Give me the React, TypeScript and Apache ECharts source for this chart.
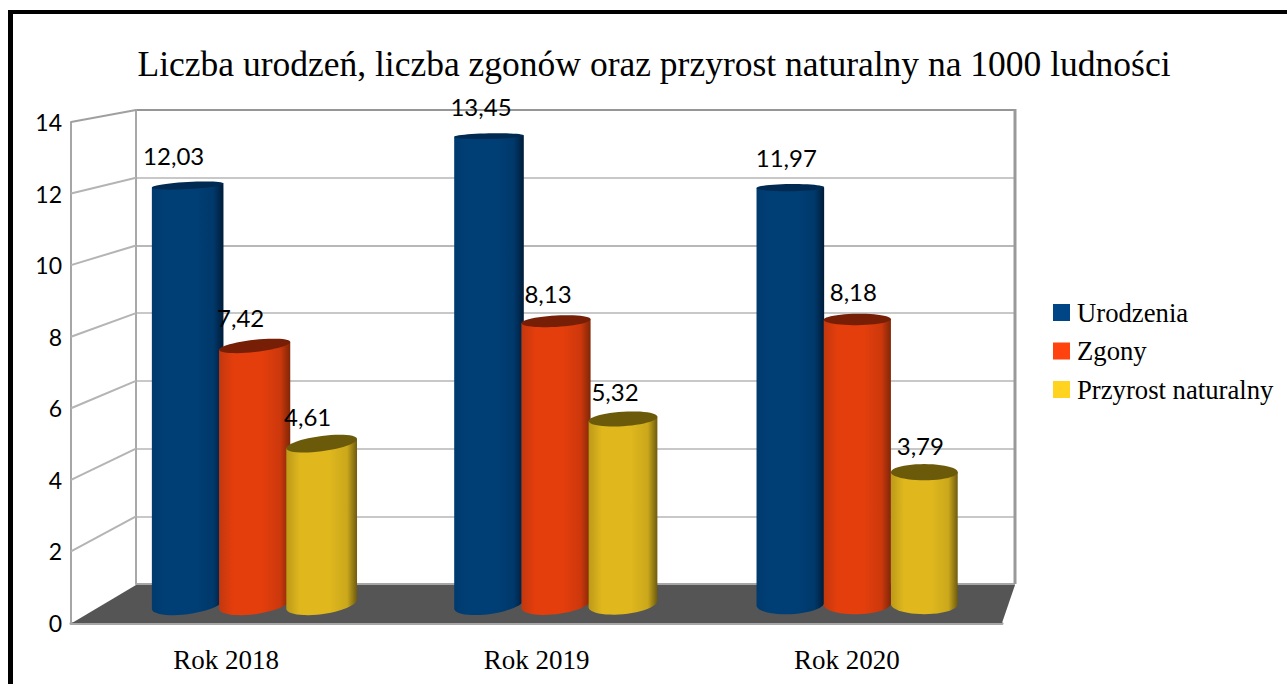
import React, { useEffect, useRef } from "react";
import * as echarts from "echarts";

const titleText = "Liczba urodzeń, liczba zgonów oraz przyrost naturalny na 1000 ludności";
const categories = ["Rok 2018", "Rok 2019", "Rok 2020"];
const seriesNames = ["Urodzenia", "Zgony", "Przyrost naturalny"];
const urodzenia = [12.03, 13.45, 11.97];
const zgony = [7.42, 8.13, 8.18];
const przyrost = [4.61, 5.32, 3.79];
const yTicks = [0, 2, 4, 6, 8, 10, 12, 14];

const legendColors = ["#004586", "#ff420e", "#ffd320"];
const bodyStops = [
  ["#003a6e", "#003f75", "#003f75", "#00386a", "#001c38"],
  ["#c2380f", "#e43e0c", "#e43e0c", "#cc380c", "#7f2607"],
  ["#bd9a18", "#e0b81e", "#e0b81e", "#cba81b", "#6e5b0e"],
];
const capColors = ["#002a52", "#761f06", "#6c5a0b"];
const serif = "'Liberation Serif', serif";
const sans = "Lato, sans-serif";

// plot geometry (page pixels)
const FRONT = { left: 71, right: 1002, top: 122, bottom: 623 };
const BACK = { left: 136, right: 1015, top: 110, bottom: 584 };
const BARS = { left: 104, right: 1008, top: 117, bottom: 604 };
const SERIES_SPACING = 67;
const LABEL_SHIFT_X = [-14, -8, -4];
const LABEL_LIFT = [30, 28, 27];
const W = 1287;
const H = 684;

function grid(b: { left: number; right: number; top: number; bottom: number }) {
  return { left: b.left, top: b.top, width: b.right - b.left, height: b.bottom - b.top, containLabel: false };
}

function cylinder(seriesIndex: number) {
  return (params: any, api: any) => {
    const cat = api.value(0);
    const val = api.value(1);
    const top = api.coord([cat, val]);
    const base = api.coord([cat, 0]);
    const cx = top[0] + (seriesIndex - 1) * SERIES_SPACING;
    const rx = 35.8 - (cx - 188) * 0.0033;
    const tiltAt = (y: number) => Math.min(0.13, ((924 - cx) * (y - 50)) / 1.8e6);
    const ryAt = (y: number) => 2.8 + (y - 135) * 0.0157;
    const pt = (cy: number, ry: number, a: number) => {
      const dx = rx * Math.cos(a);
      return [cx + dx, cy - dx * tiltAt(cy) + ry * Math.sin(a)];
    };
    const capPts: number[][] = [];
    for (let i = 0; i < 48; i++) capPts.push(pt(top[1], ryAt(top[1]), (i / 48) * Math.PI * 2));
    const bodyPts: number[][] = [];
    for (let i = 0; i <= 24; i++) bodyPts.push(pt(base[1], ryAt(base[1]), (i / 24) * Math.PI));
    bodyPts.push(pt(top[1], 0, Math.PI));
    bodyPts.push(pt(top[1], 0, 0));
    const stops = bodyStops[seriesIndex];
    const offs = [0, 0.2, 0.6, 0.86, 1];
    return {
      type: "group",
      children: [
        {
          type: "polygon",
          shape: { points: bodyPts },
          style: {
            fill: new echarts.graphic.LinearGradient(0, 0, 1, 0, stops.map((c, i) => ({ offset: offs[i], color: c }))),
          },
        },
        { type: "polygon", shape: { points: capPts }, style: { fill: capColors[seriesIndex] } },
        {
          type: "text",
          z2: 50,
          style: {
            text: val.toFixed(2).replace(".", ","),
            x: cx + LABEL_SHIFT_X[cat],
            y: top[1] - LABEL_LIFT[seriesIndex],
            align: "center",
            verticalAlign: "middle",
            font: `24px ${sans}`,
            fill: "#000",
          },
        },
      ],
    };
  };
}

export default function App() {
  const ref = useRef<HTMLDivElement>(null);
  useEffect(() => {
    const chart = echarts.init(ref.current!, undefined, { renderer: "svg" });
    const hiddenCat = (i: number) => ({ type: "category", gridIndex: i, data: categories, show: false });
    chart.setOption({
      animation: false,
      backgroundColor: "#fff",
      title: {
        text: titleText,
        left: 649,
        top: 41,
        textAlign: "center",
        textStyle: { fontFamily: serif, fontSize: 35.5, fontWeight: "normal", color: "#000" },
      },
      legend: {
        orient: "vertical",
        left: 1053,
        top: 299,
        icon: "rect",
        itemWidth: 17,
        itemHeight: 17,
        itemGap: 11.5,
        padding: 0,
        data: seriesNames,
        textStyle: { fontFamily: serif, fontSize: 26.7, color: "#000", padding: [0, 0, 0, 2] },
      },
      grid: [grid(FRONT), grid(BACK), grid(BARS)],
      xAxis: [
        {
          type: "category",
          gridIndex: 0,
          data: categories,
          axisTick: { show: false },
          axisLine: { show: true, lineStyle: { color: "#a6a6a6", width: 3 } },
          axisLabel: { margin: 23, fontFamily: serif, fontSize: 27, color: "#000" },
        },
        hiddenCat(1),
        hiddenCat(2),
      ],
      yAxis: [
        {
          type: "value",
          gridIndex: 0,
          min: 0,
          max: 14,
          interval: 2,
          axisTick: { show: false },
          splitLine: { show: false },
          axisLine: { show: true, lineStyle: { color: "#a6a6a6", width: 2 } },
          axisLabel: { margin: 9, fontFamily: sans, fontSize: 23, color: "#000" },
        },
        {
          type: "value",
          gridIndex: 1,
          min: 0,
          max: 14,
          interval: 2,
          axisTick: { show: false },
          axisLabel: { show: false },
          axisLine: { show: true, lineStyle: { color: "#a8a8a8", width: 2 } },
          splitLine: {
            show: true,
            lineStyle: {
              width: 2,
              color: ["#a6a6a6", "#c8c8c8", "#c8c8c8", "#c8c8c8", "#c8c8c8", "#b8b8b8", "#c8c8c8", "#969696"],
            },
          },
        },
        { type: "value", gridIndex: 2, min: 0, max: 14, interval: 2, show: false },
      ],
      series: [urodzenia, zgony, przyrost].map((vals, s) => ({
        type: "custom",
        name: seriesNames[s],
        xAxisIndex: 2,
        yAxisIndex: 2,
        z: 5,
        itemStyle: { color: legendColors[s] },
        renderItem: cylinder(s),
        encode: { x: 0, y: 1 },
        data: vals.map((v, i) => [i, v]),
      })),
    });

    const frontY = (v: number) => chart.convertToPixel({ yAxisIndex: 0 }, v) as number;
    const backY = (v: number) => chart.convertToPixel({ yAxisIndex: 1 }, v) as number;
    const sideLines = yTicks.slice(1).map((v) => ({
      type: "line",
      z: 1,
      shape: { x1: FRONT.left, y1: frontY(v), x2: BACK.left, y2: backY(v) },
      style: { stroke: v === 14 ? "#a0a0a0" : "#b4b4b4", lineWidth: 2 },
    }));
    chart.setOption({
      graphic: {
        elements: [
          ...sideLines,
          {
            type: "line",
            z: 1,
            shape: { x1: BACK.right, y1: backY(14) - 1, x2: BACK.right, y2: backY(0) },
            style: { stroke: "#999", lineWidth: 3 },
          },
          {
            type: "polygon",
            z: 2,
            shape: {
              points: [
                [FRONT.left + 1, frontY(0)],
                [BACK.left, backY(0) + 1],
                [BACK.right, backY(0) + 1],
                [FRONT.right, frontY(0)],
              ],
            },
            style: { fill: "#555555" },
          },
          { type: "rect", z: 20, shape: { x: 8, y: 10, width: 5, height: H - 10 }, style: { fill: "#000" } },
          { type: "rect", z: 20, shape: { x: 8, y: 10, width: W - 8, height: 4 }, style: { fill: "#000" } },
        ],
      },
    });
    return () => chart.dispose();
  }, []);
  return <div ref={ref} style={{ position: "fixed", left: 0, top: 0, width: W, height: H }} />;
}
